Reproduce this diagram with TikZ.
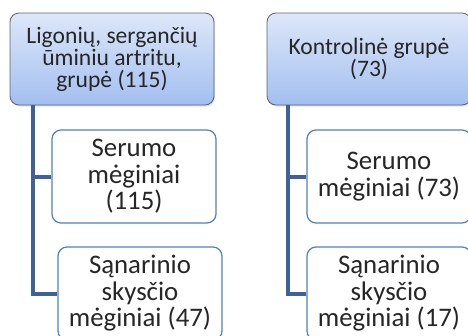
\documentclass[tikz,border=0pt]{standalone}
\usepackage{fontspec}
\setmainfont{Carlito}
\usepackage{tikz}
\usetikzlibrary{positioning,calc,shadows}
\definecolor{grpedge}{HTML}{5B6373}
\definecolor{grptop}{HTML}{DDE7F8}
\definecolor{grpbot}{HTML}{A3BFF0}
\definecolor{smpedge}{HTML}{4F81BD}
\definecolor{lnblue}{HTML}{3E6297}
\definecolor{txtgray}{HTML}{262626}

\begin{document}
\begin{tikzpicture}[
    x=1pt,y=-1pt,
    grp/.style  = {rectangle,rounded corners=9pt,draw=grpedge,line width=0.8pt,
                   top color=grptop,bottom color=grpbot,align=center,
                   font=\fontsize{23.6}{22}\selectfont,text=txtgray,
                   minimum width=204pt,minimum height=92pt,inner sep=0pt,
                   drop shadow={opacity=0.25,shadow xshift=1pt,shadow yshift=-1.5pt}},
    smp/.style  = {rectangle,rounded corners=9pt,draw=smpedge,line width=1.2pt,
                   fill=white,align=center,
                   font=\fontsize{26.8}{26.5}\selectfont,text=txtgray,
                   minimum width=164pt,minimum height=93pt,inner sep=0pt},
    ln/.style   = {lnblue,line width=4pt},
  ]
  \useasboundingbox (0,0) rectangle (468,335);

  % left group
  \node[grp] (lig)  at (112,59)    {Ligonių, sergančių\\ūminiu artritu,\\grupė (115)};
  \node[smp] (lser) at (134,176.5) {Serumo\\mėginiai\\(115)};
  \node[smp] (lsan) at (140,293.5) {Sąnarinio\\skysčio\\mėginiai (47)};

  % right group
  \node[grp] (kon)  at (369,59)    {Kontrolinė grupė\\(73)};
  \node[smp] (rser) at (389,176.5) {Serumo\\mėginiai (73)};
  \node[smp] (rsan) at (389,293.5) {Sąnarinio\\skysčio\\mėginiai (17)};

  \coordinate (lroot) at ([xshift=23pt]lig.south west);
  \coordinate (rroot) at ([xshift=21pt]kon.south west);
  \foreach \a/\b in {lroot/lser,lroot/lsan,rroot/rser,rroot/rsan}
    \draw[ln] (\a) |- (\b.west);

\end{tikzpicture}
\end{document}
